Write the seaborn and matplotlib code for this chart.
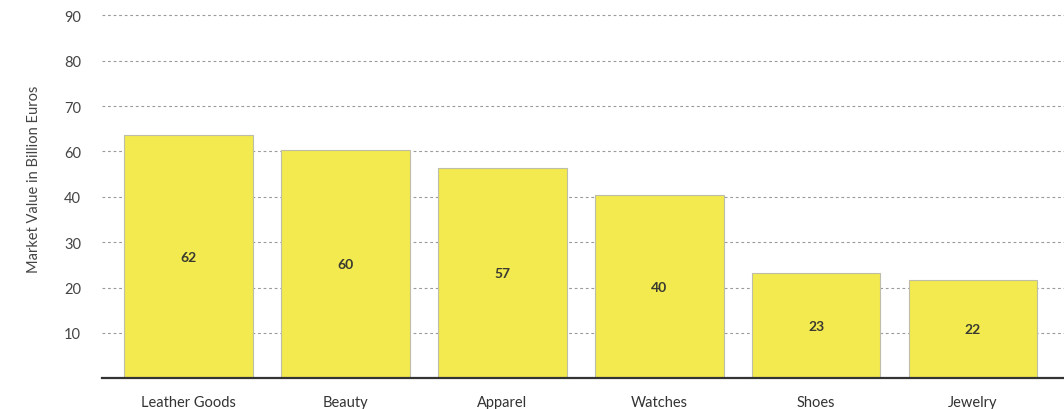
import matplotlib
matplotlib.use("Agg")
import matplotlib.pyplot as plt
import seaborn as sns
import pandas as pd

# Data
categories = ["Leather Goods", "Beauty", "Apparel", "Watches", "Shoes", "Jewelry"]
# printed values on the bars
value_labels = [62, 60, 57, 40, 23, 22]
# bar heights as drawn against the chart's grid
bar_heights = [53.6, 50.3, 46.4, 40.4, 23.1, 21.6]
# grid positions and the (as printed) tick labels
tick_positions = [10, 20, 30, 40, 50, 60, 70, 80]
tick_labels = ["10", "20", "30", "40", "60", "70", "80", "90"]

df = pd.DataFrame({"category": categories, "height": bar_heights})

sns.set_theme(style="white")
plt.rcParams["font.family"] = ["Lato", "DejaVu Sans"]

fig = plt.figure(figsize=(10.64, 4.10), dpi=100)
ax = fig.add_axes([0.0959, 0.0749, 0.9041, 0.9051])

sns.barplot(data=df, x="category", y="height", color="#F2EA4E", saturation=1,
            width=0.82, edgecolor="#BDBDA8", linewidth=0.8, ax=ax, zorder=3)

ax.bar_label(ax.containers[0], labels=[str(v) for v in value_labels],
             label_type="center", fontsize=10, fontweight="bold", color="#3a3a30")

ax.set_xlim(-0.551, 5.58)
ax.set_ylim(0, 81.8)
ax.set_yticks(tick_positions)
ax.set_yticklabels(tick_labels)
ax.yaxis.grid(True, linestyle=(0, (2.5, 2.5)), color="#9a9a9a", linewidth=0.8, zorder=0)
ax.set_axisbelow(True)

for s in ["top", "right", "left"]:
    ax.spines[s].set_visible(False)
ax.spines["bottom"].set_color("#333333")
ax.spines["bottom"].set_linewidth(1.6)
ax.spines["bottom"].set_zorder(4)

ax.tick_params(axis="y", length=0, pad=15, labelsize=10.5, labelcolor="#444444")
ax.tick_params(axis="x", length=0, pad=12, labelsize=10.5, labelcolor="#333333")

ax.set_xlabel("")
ax.set_ylabel("Market Value in Billion Euros", fontsize=10.5, color="#444444")
ax.yaxis.set_label_coords(-0.063, 0.54)

fig.savefig("out.png", dpi=100)
